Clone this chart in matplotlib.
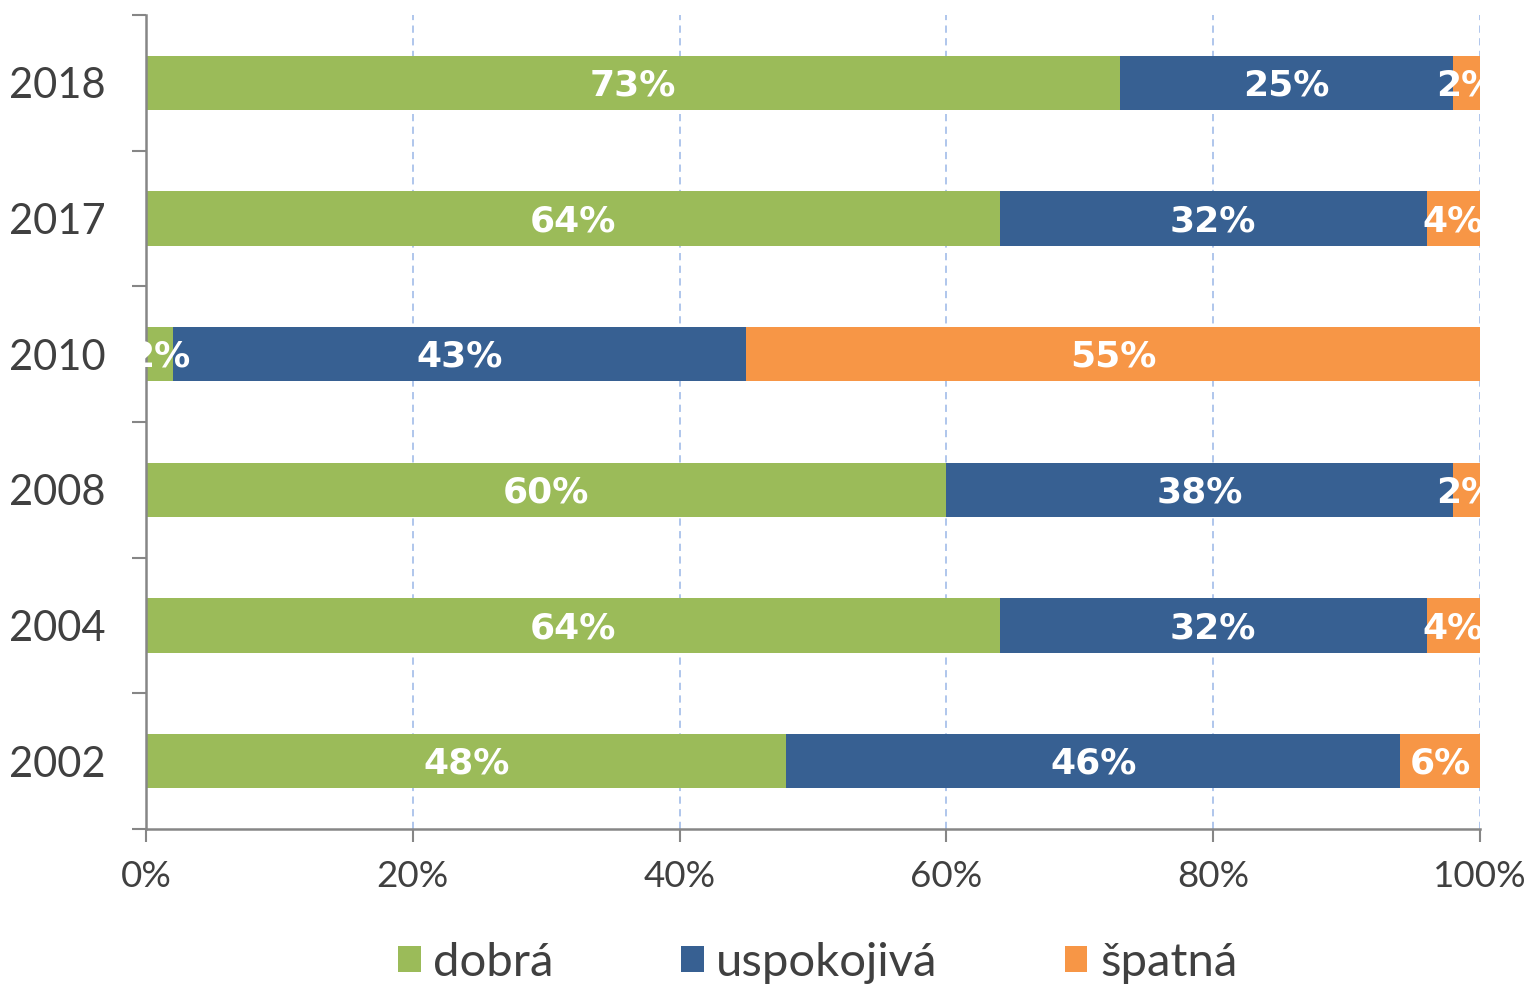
import matplotlib.pyplot as plt
import numpy as np

# data, bottom row first
years = ["2002", "2004", "2008", "2010", "2017", "2018"]
dobra = [48, 64, 60, 2, 64, 73]
uspokojiva = [46, 32, 38, 43, 32, 25]
spatna = [6, 4, 2, 55, 4, 2]
series_names = ["dobrá", "uspokojivá", "špatná"]
colors = ["#9BBB59", "#376092", "#F79646"]

plt.rcParams['font.family'] = ['Lato', 'DejaVu Sans']

fig = plt.figure(figsize=(15.31, 9.86), dpi=100)
ax = fig.add_axes([146 / 1531, 1 - 829 / 986, (1480 - 146) / 1531, (829 - 15) / 986])

y = np.arange(len(years))
left = np.zeros(len(years))
for vals, name, col in zip([dobra, uspokojiva, spatna], series_names, colors):
    vals = np.array(vals, dtype=float)
    ax.barh(y, vals, left=left, height=0.4, color=col, label=name, zorder=2)
    for yi, v, l in zip(y, vals, left):
        ax.text(l + v / 2, yi - 0.02, f"{int(v)}%", ha='center', va='center', color='white',
                fontsize=26, fontweight='bold', family='DejaVu Sans', zorder=3)
    left += vals

# dashed gridlines
for xv in [20, 40, 60, 80, 100]:
    ax.axvline(xv, color='#A9C1EA', linestyle=(0, (4, 3)), linewidth=1.3, zorder=1)

ax.set_xlim(0, 100)
ax.set_ylim(-0.5, len(years) - 0.5)

ax.set_xticks([0, 20, 40, 60, 80, 100])
ax.set_xticklabels([f"{v}%" for v in [0, 20, 40, 60, 80, 100]])
ax.tick_params(axis='x', length=9, width=1.5, color='#868686', labelsize=26.5,
               labelcolor='#404040', pad=13)

ax.set_yticks(np.arange(-0.5, len(years)), labels=[])
ax.set_yticks(y, labels=years, minor=True)
ax.tick_params(axis='y', which='major', length=10, width=1.5, color='#868686')
ax.tick_params(axis='y', which='minor', length=0, labelsize=30, labelcolor='#404040', pad=29)

for s in ['top', 'right']:
    ax.spines[s].set_visible(False)
for s in ['left', 'bottom']:
    ax.spines[s].set_color('#868686')
    ax.spines[s].set_linewidth(1.8)

fig.legend(loc='center', bbox_to_anchor=(818 / 1531, 1 - 963 / 986), ncol=3, frameon=False,
           fontsize=34, handlelength=0.47, handleheight=0.47, handletextpad=0.27,
           columnspacing=2.7, labelcolor='#404040')

fig.savefig("out.png", dpi=100)
